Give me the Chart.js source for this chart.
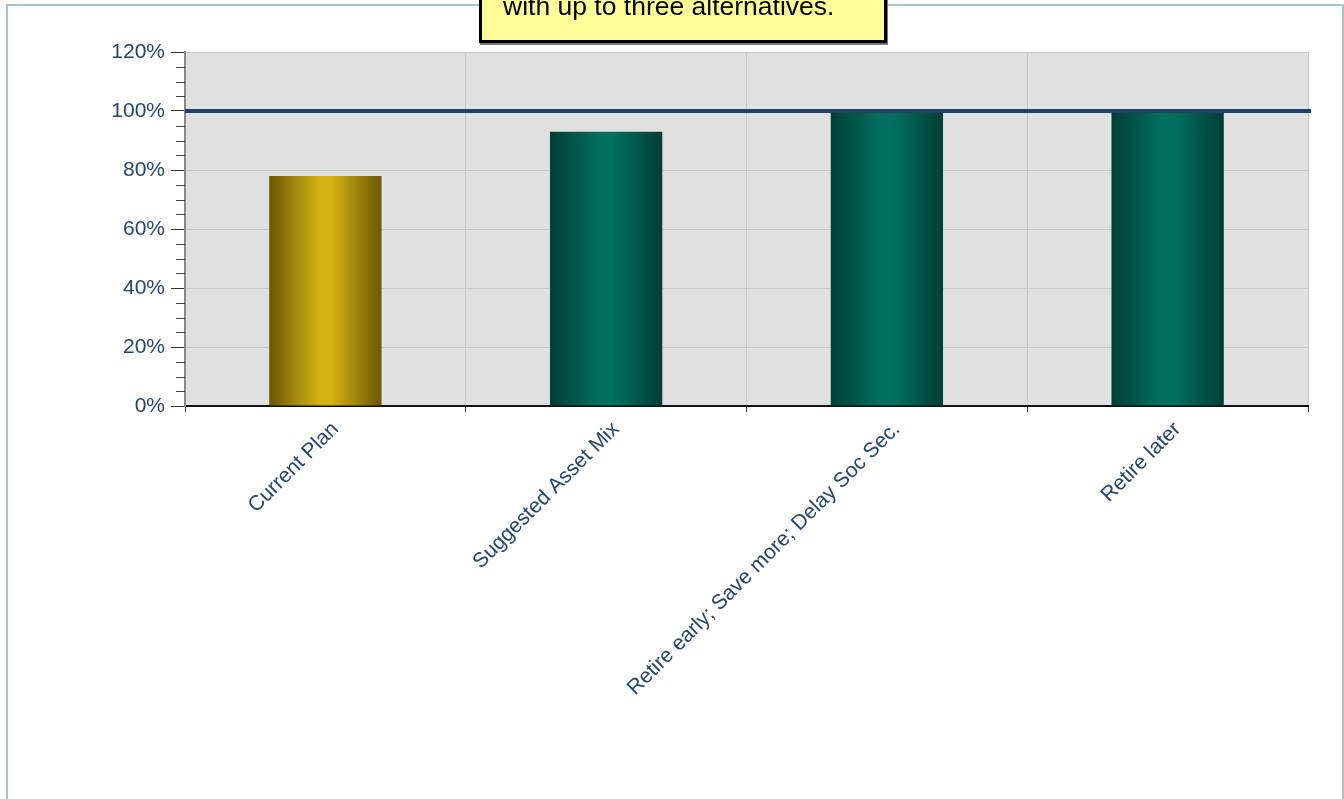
<!DOCTYPE html>
<html>
<head>
<meta charset="utf-8">
<script src="https://cdn.jsdelivr.net/npm/chart.js@4.4.1/dist/chart.umd.min.js"></script>
<style>
    html, body { margin: 0; padding: 0; background: #fff; overflow: hidden; }
    body { width: 1344px; height: 799px; position: relative; font-family: "Liberation Sans", Arial, sans-serif; }
    #frame {
        position: absolute; left: 6px; top: 4px; width: 1334px; height: 820px;
        border: 2px solid #adc2cf;
    }
    #wrap { position: absolute; left: 0; top: 0; width: 1344px; height: 799px; }
    #note {
        position: absolute; left: 479px; top: -40px; width: 402px; height: 77px;
        background: #ffff99; border: 3px solid #000;
        box-shadow: 1px 2px 0 #777;
    }
    #note span {
        position: absolute; left: 21px; top: 30px;
        font-size: 26.5px; line-height: 1; color: #000; white-space: nowrap;
    }
</style>
</head>
<body>
<div id="frame"></div>
<div id="wrap"><canvas id="successChart" width="1344" height="799"></canvas></div>
<div id="note"><span>with up to three alternatives.</span></div>
<script>
// Chart data
const scenarios = ["Current Plan", "Suggested Asset Mix", "Retire early; Save more; Delay Soc Sec.", "Retire later"];
const successRates = [78, 93, 99.5, 99.5];
const targetRate = 100;
const yTicks = [0, 20, 40, 60, 80, 100, 120];

// bar colours: [edge, centre]
const barShades = [
    ["#6a5705", "#d4b313"],
    ["#003f35", "#00705e"],
    ["#003f35", "#00705e"],
    ["#003f35", "#00705e"],
];

const labelColor = "#24466e";
const fontFamily = "'Liberation Sans', Arial, sans-serif";

function barGradient(context) {
    const chart = context.chart;
    const xs = chart.scales.x;
    const shade = barShades[context.dataIndex] || barShades[1];
    if (!xs || !chart.chartArea) return shade[1];
    const cx = xs.getPixelForValue(context.dataIndex);
    const w = (xs.width / scenarios.length) * 0.4;
    const g = chart.ctx.createLinearGradient(cx - w / 2, 0, cx + w / 2, 0);
    g.addColorStop(0, shade[0]);
    g.addColorStop(0.45, shade[1]);
    g.addColorStop(0.55, shade[1]);
    g.addColorStop(1, shade[0]);
    return g;
}

// grey plot area
const plotBackground = {
    id: "plotBackground",
    beforeDraw(chart) {
        const { ctx, chartArea } = chart;
        ctx.save();
        ctx.fillStyle = "#e0e0e0";
        ctx.fillRect(chartArea.left, chartArea.top, chartArea.right - chartArea.left, chartArea.bottom - chartArea.top);
        ctx.restore();
    },
};

// minor ticks on the y axis + target line
const extras = {
    id: "extras",
    afterDraw(chart) {
        const { ctx, chartArea } = chart;
        const ys = chart.scales.y;
        ctx.save();
        ctx.strokeStyle = "#444";
        ctx.lineWidth = 1;
        for (let v = 0; v <= 120; v += 5) {
            if (yTicks.includes(v)) continue;
            const y = Math.round(ys.getPixelForValue(v)) + 0.5;
            ctx.beginPath();
            ctx.moveTo(chartArea.left - 9, y);
            ctx.lineTo(chartArea.left, y);
            ctx.stroke();
        }
        const ty = ys.getPixelForValue(targetRate);
        ctx.strokeStyle = "#213f67";
        ctx.lineWidth = 4;
        ctx.beginPath();
        ctx.moveTo(chartArea.left, ty);
        ctx.lineTo(chartArea.right + 3, ty);
        ctx.stroke();
        ctx.restore();
    },
};

const successChart = new Chart(document.getElementById("successChart"), {
    type: "bar",
    data: {
        labels: scenarios,
        datasets: [{
            label: "Probability of success",
            data: successRates,
            backgroundColor: barGradient,
            borderWidth: 0,
            barPercentage: 0.4,
            categoryPercentage: 1,
        }],
    },
    options: {
        responsive: false,
        animation: false,
        layout: { padding: { left: 0, right: 36, top: 52, bottom: 0 } },
        plugins: { legend: { display: false }, tooltip: { enabled: false } },
        scales: {
            x: {
                grid: { color: "#c8c8c8", tickColor: "#333", tickLength: 6, offset: true },
                border: { color: "#111", width: 2 },
                ticks: {
                    color: labelColor,
                    font: { family: fontFamily, size: 21 },
                    maxRotation: 45,
                    minRotation: 45,
                    padding: 5,
                    labelOffset: 10,
                },
                afterFit(scale) { scale.height = 393; },
            },
            y: {
                min: 0,
                max: 120,
                grid: {
                    color: (c) => (yTicks.includes(c.tick.value) ? "#c8c8c8" : "rgba(0,0,0,0)"),
                    tickColor: (c) => (yTicks.includes(c.tick.value) ? "#333" : "rgba(0,0,0,0)"),
                    tickLength: 14,
                },
                border: { color: "#888", width: 2 },
                ticks: {
                    stepSize: 5,
                    autoSkip: false,
                    color: labelColor,
                    font: { family: fontFamily, size: 21 },
                    padding: 6,
                    callback: (v) => (yTicks.includes(v) ? v + "%" : ""),
                },
                afterFit(scale) { scale.width = 185; },
            },
        },
    },
    plugins: [plotBackground, extras],
});
</script>
</body>
</html>
